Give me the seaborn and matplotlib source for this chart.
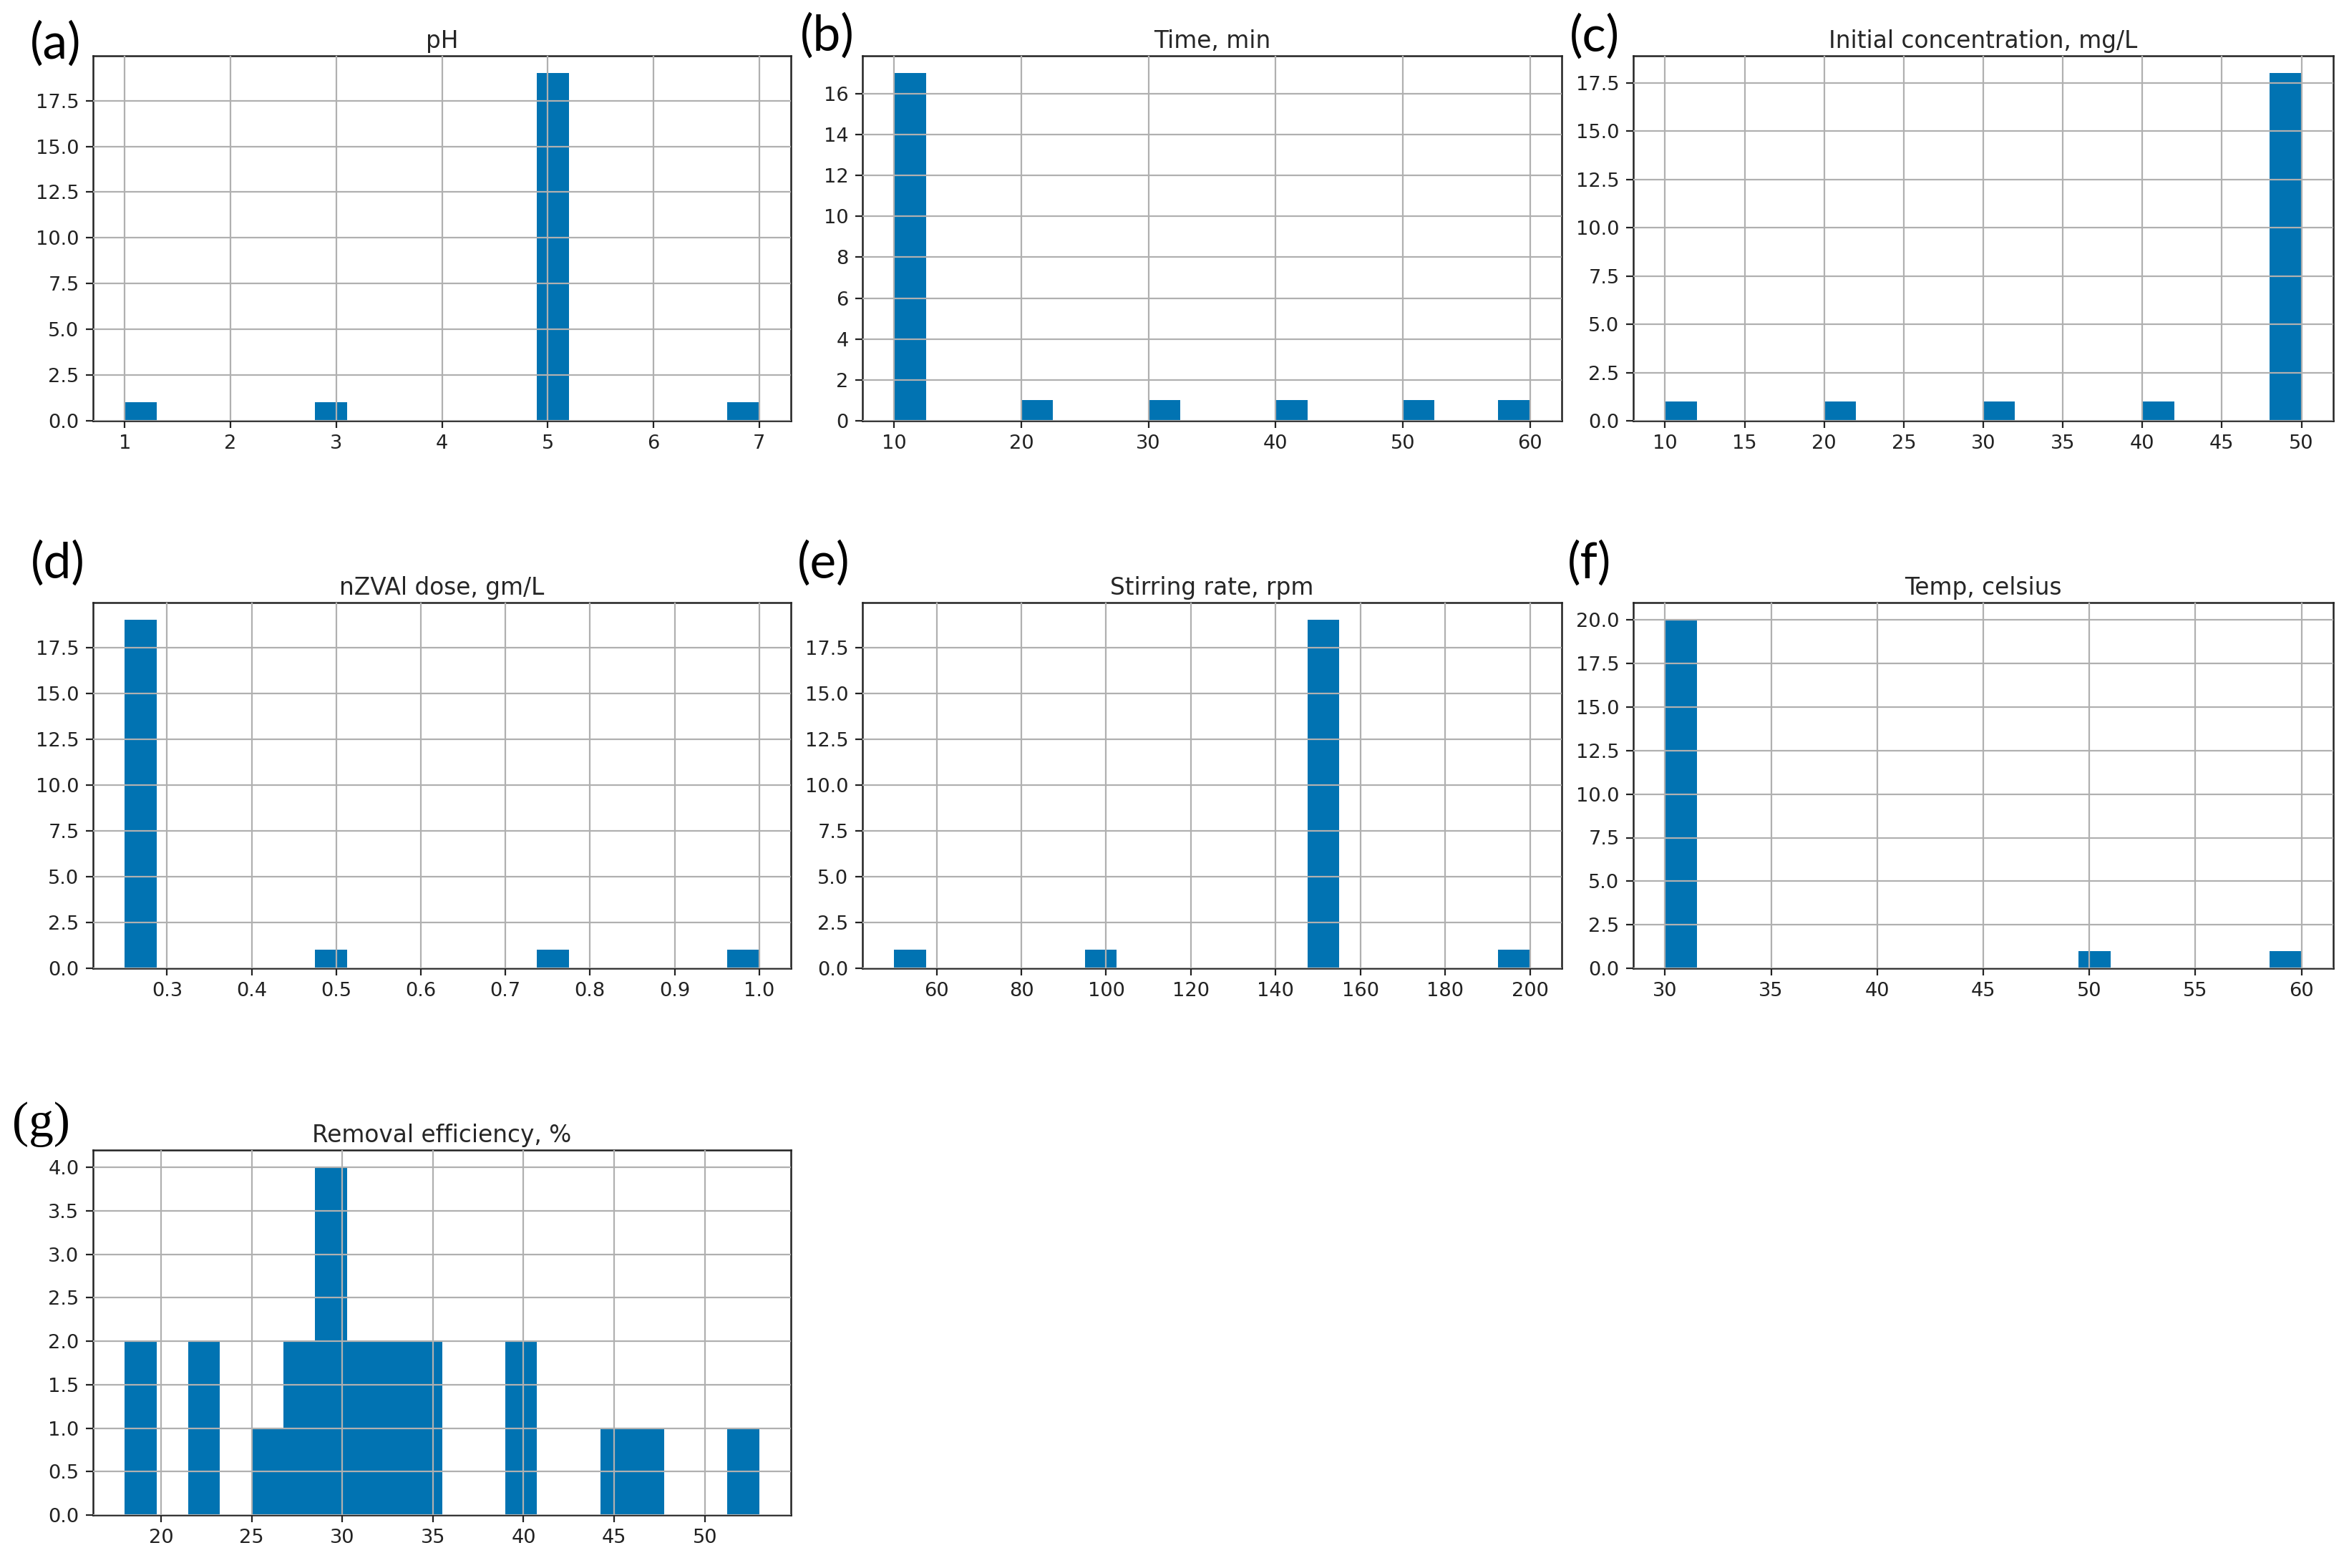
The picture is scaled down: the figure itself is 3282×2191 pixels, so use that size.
import numpy as np
import pandas as pd
import matplotlib
matplotlib.use("Agg")
import matplotlib.pyplot as plt
from matplotlib import font_manager
import seaborn as sns

# ---- data (22 experimental runs) ----
ph_values = [1, 3] + [5] * 19 + [7]
time_values = [10] * 17 + [20, 30, 40, 50, 60]
conc_values = [10, 20, 30, 40] + [50] * 18
dose_values = [0.25] * 19 + [0.5, 0.75, 1.0]
stirring_values = [50, 100] + [150] * 19 + [200]
temp_values = [30] * 20 + [50, 60]
removal_values = [18.0, 19.2, 22.0, 22.8, 25.5, 27.2, 28.0, 29.0, 29.5, 30.0,
                  30.1, 31.0, 31.5, 32.5, 33.0, 34.5, 35.0, 39.5, 40.2, 45.0,
                  47.0, 53.0]

titles = ["pH", "Time, min", "Initial concentration, mg/L", "nZVAl dose, gm/L",
          "Stirring rate, rpm", "Temp, celsius", "Removal efficiency, %"]
panel_labels = ["(a)", "(b)", "(c)", "(d)", "(e)", "(f)", "(g)"]

df = pd.DataFrame({
    titles[0]: ph_values,
    titles[1]: time_values,
    titles[2]: conc_values,
    titles[3]: dose_values,
    titles[4]: stirring_values,
    titles[5]: temp_values,
    titles[6]: removal_values,
})

sns.set_style("white")
plt.rcParams["font.family"] = ["DejaVu Sans"]
plt.rcParams["font.serif"] = ["Liberation Serif", "Times New Roman", "DejaVu Serif"]
plt.rcParams["axes.axisbelow"] = "line"

serif_fp = None
for f in font_manager.fontManager.ttflist:
    if f.name == "Liberation Serif" and f.style == "normal" and f.weight in (400, "normal"):
        serif_fp = font_manager.FontProperties(fname=f.fname, size=25)
        break
if serif_fp is None:
    serif_fp = font_manager.FontProperties(family="serif", size=25)

W, H = 3282, 2191
DPI = 200
fig = plt.figure(figsize=(W / DPI, H / DPI), dpi=DPI)
fig.patch.set_facecolor("white")

col_lr = [(130, 1105), (1205, 2182), (2282, 3260)]
row_tb = [(78, 588), (842, 1353), (1607, 2117)]

bar_color = "#0173b2"

label_pos = [(42, 61), (1118, 50), (2193, 51),
             (43, 787), (1114, 787), (2190, 787), (17, 1571)]

for i, col in enumerate(titles):
    r, c = divmod(i, 3)
    l, rr = col_lr[c]
    t, b = row_tb[r]
    ax = fig.add_axes([l / W, 1 - b / H, (rr - l) / W, (b - t) / H])
    sns.histplot(x=df[col], bins=20, ax=ax, color=bar_color, alpha=1.0,
                 linewidth=0, edgecolor="none", stat="count")
    ax.set_xlabel("")
    ax.set_ylabel("")
    ax.set_title(col, fontsize=11.8, pad=4)
    ax.grid(True, color="#b0b0b0", linewidth=0.8)
    ax.set_axisbelow(False)
    for line in ax.get_xgridlines() + ax.get_ygridlines():
        line.set_zorder(1.5)
    for s in ax.spines.values():
        s.set_color("#222222")
        s.set_linewidth(0.9)
        s.set_visible(True)
    ax.tick_params(axis="both", which="major", labelsize=9.8, length=3.5,
                   width=0.8, color="#222222", labelcolor="#222222",
                   bottom=True, left=True)

    lx, ly = label_pos[i]
    if i == 6:
        fig.text(lx / W, 1 - ly / H, panel_labels[i], fontproperties=serif_fp,
                 ha="left", va="center", color="black")
    else:
        fig.text(lx / W, 1 - ly / H, panel_labels[i], fontsize=25,
                 fontfamily="Lato", ha="left", va="center", color="black")

fig.savefig("out.png", dpi=DPI, facecolor="white")
